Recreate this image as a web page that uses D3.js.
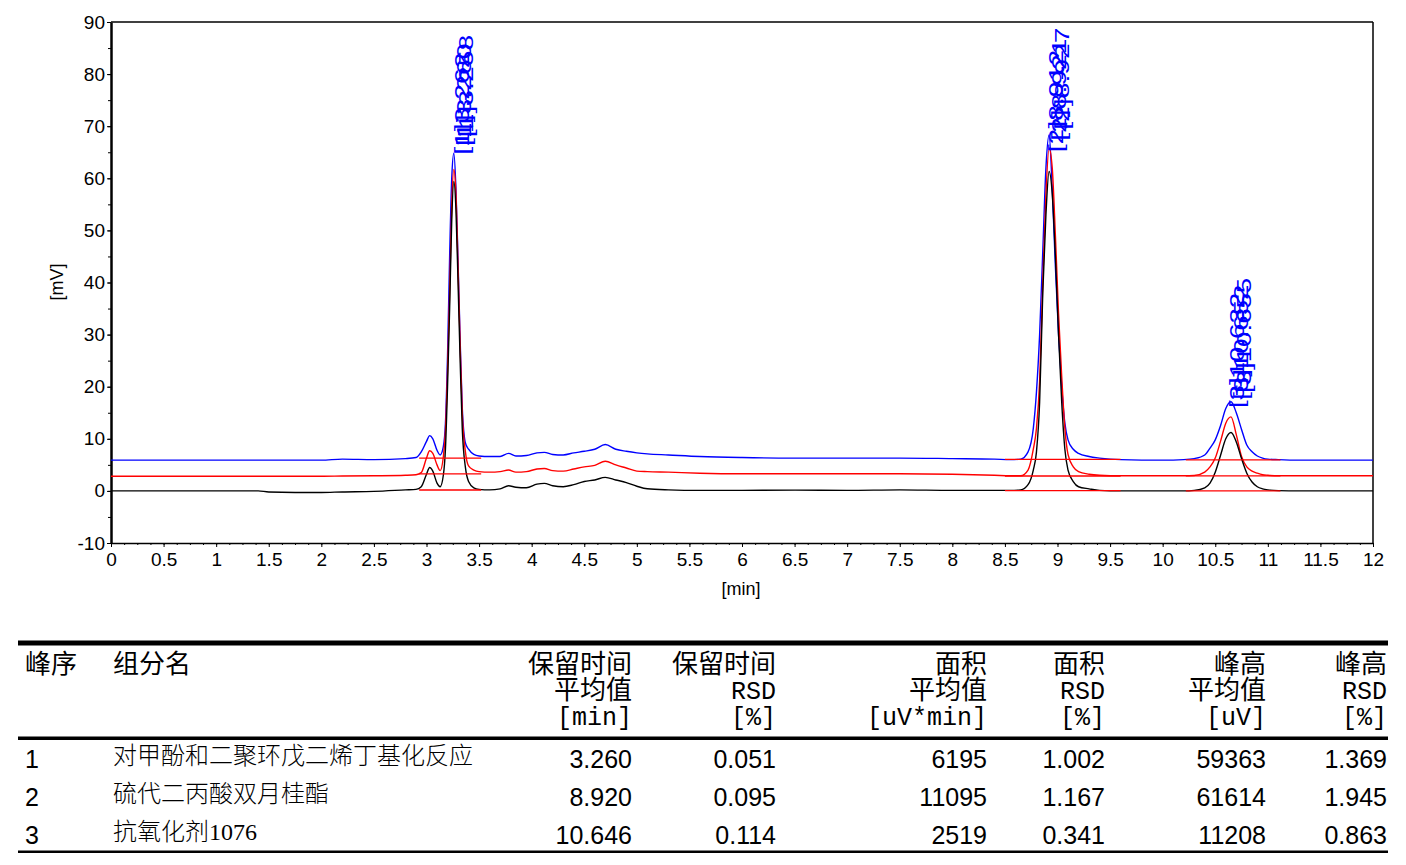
<!DOCTYPE html>
<html>
<head>
<meta charset="utf-8">
<script src="https://cdn.jsdelivr.net/npm/d3@7"></script>
<style>
  body { margin: 0; background: #fff; }
</style>
</head>
<body>
<script>
// retention time samples (min), shared by the three runs
const times = [
  0, 1.0, 1.4, 1.5, 2.0, 2.2, 2.5, 2.8, 2.9, 2.95,
  3.0, 3.03, 3.06, 3.1, 3.13, 3.16, 3.18, 3.2, 3.22, 3.24, 3.26, 3.28, 3.3, 3.32, 3.34, 3.37, 3.4, 3.45, 3.5,
  3.6, 3.7, 3.78, 3.85, 3.95, 4.05, 4.12, 4.2, 4.3, 4.4, 4.5, 4.6, 4.7, 4.8, 4.9, 5.0, 5.1, 5.3, 5.6, 6.0, 6.5, 7.0, 7.5, 8.0, 8.4,
  8.55, 8.65, 8.72, 8.77, 8.8, 8.83, 8.86, 8.89, 8.92, 8.95, 8.98, 9.01, 9.04, 9.07, 9.1, 9.15, 9.2, 9.3, 9.4, 9.6,
  10.0, 10.2, 10.3, 10.4, 10.45, 10.5, 10.55, 10.6, 10.65, 10.7, 10.75, 10.8, 10.85, 10.9, 10.95, 11.0, 11.1, 11.3, 12.0
];
// signal (mV) of each run
const blackRun = [
  0, 0, 0, -0.2, -0.3, -0.2, -0.1, 0.2, 0.3, 0.8,
  3.2, 4.5, 3.8, 1.5, 0.8, 3, 8, 20, 35, 52, 59.4, 54, 40, 25, 12, 4.5, 1.8, 0.6, 0.3,
  0.2, 0.4, 1.0, 0.7, 0.6, 1.3, 1.45, 1.0, 0.8, 1.2, 1.8, 2.1, 2.6, 2.1, 1.6, 0.9, 0.4, 0.2, 0.1, 0.1, 0.15, 0.1, 0.2, 0.1, 0.1,
  0.1, 0.2, 1.2, 4, 7.5, 17, 38, 53, 61.3, 57, 45, 30, 17, 8, 4, 1.8, 0.8, 0.4, 0.1, 0,
  0, 0, 0.1, 0.6, 1.5, 3.6, 6.8, 10, 11.2, 9.4, 6.2, 3.4, 1.7, 0.8, 0.4, 0.2, 0.05, 0, 0
];
const redRun = [
  2.8, 2.8, 2.8, 2.8, 2.8, 2.85, 2.9, 3.0, 3.1, 3.5,
  6.3, 7.7, 7.2, 5.0, 3.9, 6.5, 11.5, 23, 38, 55, 61.7, 57, 43, 28, 15, 7.5, 4.8, 4.0, 3.7,
  3.6, 3.7, 4.0, 3.6, 3.7, 4.2, 4.3, 3.9, 3.8, 4.2, 4.6, 4.9, 5.7, 5.0, 4.4, 3.8, 3.7, 3.6, 3.4, 3.3, 3.3, 3.3, 3.3, 3.2, 3.0,
  2.9, 2.9, 4.0, 8, 12, 21, 40, 57, 65.8, 62, 49, 34, 22, 12, 7, 4.6, 3.7, 3.2, 3.0, 2.9,
  2.9, 2.9, 2.95, 3.6, 4.6, 6.3, 9.5, 13, 14.2, 10.8, 6.6, 4.6, 3.8, 3.4, 3.1, 3.0, 2.9, 2.9, 2.9
];
const blueRun = [
  5.9, 5.9, 5.9, 5.9, 5.9, 6.1, 6.0, 6.2, 6.4, 7.5,
  9.5, 10.6, 10.0, 7.8, 6.9, 8.5, 13, 26, 45, 60, 64.8, 58, 44, 29, 16, 9.2, 8.0, 7.0, 6.7,
  6.6, 6.6, 7.2, 6.7, 6.8, 7.3, 7.4, 7.0, 6.9, 7.3, 7.6, 8.0, 8.9, 8.0, 7.6, 7.3, 7.1, 6.9, 6.6, 6.4, 6.3, 6.3, 6.3, 6.2, 6.1,
  6.0, 6.1, 7.5, 12, 19, 30, 46, 62, 68.3, 58, 43, 30, 20, 13, 9.8, 8, 7.2, 6.6, 6.3, 6.0,
  5.9, 6.0, 6.2, 6.9, 8.2, 9.8, 12.5, 15.8, 17.1, 15, 11.8, 8.8, 7.5, 6.7, 6.3, 6.1, 6.0, 5.9, 5.9
];

// integration baselines (red segments) per peak
const intStart = [2.93, 8.5, 10.22];
const intEnd = [3.52, 9.6, 11.12];
const intBlack = [0.17, 0.04, 0.0];
const intRed = [3.25, 2.86, 2.9];
const intBlue = [6.3, 6.06, 5.95];

// peak labels: text, retention time, height (mV) where the label starts
const peakLabels = [
  ["[1]3.262", "[1]3.260", "[1]3.258"],
  ["[2]8.912", "[2]8.921", "[2]8.927"],
  ["[3]10.632", "[3]10.652", "[3]10.655"]
];
const labelRT = [[3.262, 3.260, 3.258], [8.912, 8.921, 8.927], [10.632, 10.652, 10.655]];
const labelMV = [[64.5, 66.2, 67.9], [65.0, 67.2, 69.3], [15.9, 17.5, 18.8]];

const xTickValues = [0, 0.5, 1, 1.5, 2, 2.5, 3, 3.5, 4, 4.5, 5, 5.5, 6, 6.5, 7, 7.5, 8, 8.5, 9, 9.5, 10, 10.5, 11, 11.5, 12];
const yTickValues = [-10, 0, 10, 20, 30, 40, 50, 60, 70, 80, 90];

// result table
const headers = [
  ["峰序"], ["组分名"], ["保留时间", "平均值", "[min]"], ["保留时间", "RSD", "[%]"],
  ["面积", "平均值", "[uV*min]"], ["面积", "RSD", "[%]"], ["峰高", "平均值", "[uV]"], ["峰高", "RSD", "[%]"]
];
const peakNo = ["1", "2", "3"];
const compNames = ["对甲酚和二聚环戊二烯丁基化反应", "硫代二丙酸双月桂酯", "抗氧化剂1076"];
const rtMean = ["3.260", "8.920", "10.646"];
const rtRSD = ["0.051", "0.095", "0.114"];
const areaMean = ["6195", "11095", "2519"];
const areaRSD = ["1.002", "1.167", "0.341"];
const heightMean = ["59363", "61614", "11208"];
const heightRSD = ["1.369", "1.945", "0.863"];

const SANS = "'Liberation Sans', Arial, sans-serif";
const CJK = "'Noto Sans CJK SC', sans-serif";

const svg = d3.select("body").append("svg")
  .attr("width", 1406)
  .attr("height", 865);

const x = d3.scaleLinear().domain([0, 12]).range([111, 1373]);
const y = d3.scaleLinear().domain([-10, 90]).range([543, 22]);

// frame top and right
svg.append("line").attr("x1", 111).attr("y1", 22).attr("x2", 1373).attr("y2", 22)
  .attr("stroke", "#000").attr("stroke-width", 1.5);
svg.append("line").attr("x1", 1373).attr("y1", 22).attr("x2", 1373).attr("y2", 543)
  .attr("stroke", "#000").attr("stroke-width", 1.5);

// y axis
const gy = svg.append("g").attr("transform", "translate(111,0)")
  .call(d3.axisLeft(y).tickValues(yTickValues).tickSize(4).tickPadding(2).tickSizeOuter(0).tickFormat(d => String(d)));
gy.select(".domain").attr("stroke-width", 2.5);
gy.selectAll("text").attr("font-family", SANS).attr("font-size", 19).attr("fill", "#000");
const gyMinor = svg.append("g").attr("transform", "translate(111,0)")
  .call(d3.axisLeft(y).tickValues(d3.range(-10, 90.1, 5)).tickSize(3).tickFormat(""));
gyMinor.select(".domain").remove();

// x axis
const gx = svg.append("g").attr("transform", "translate(0,543)")
  .call(d3.axisBottom(x).tickValues(xTickValues).tickSize(4).tickPadding(6).tickSizeOuter(0).tickFormat(d => String(d)));
gx.select(".domain").attr("stroke-width", 1.5);
gx.selectAll("text").attr("font-family", SANS).attr("font-size", 19).attr("fill", "#000");
const gxMinor = svg.append("g").attr("transform", "translate(0,543)")
  .call(d3.axisBottom(x).tickValues(d3.range(0, 12.001, 0.125)).tickSize(2).tickFormat(""));
gxMinor.select(".domain").remove();

// axis titles
svg.append("text")
  .attr("transform", "translate(63,282) rotate(-90)")
  .attr("text-anchor", "middle")
  .attr("font-family", SANS).attr("font-size", 18).attr("fill", "#000")
  .text("[mV]");
svg.append("text")
  .attr("x", 741).attr("y", 595)
  .attr("text-anchor", "middle")
  .attr("font-family", SANS).attr("font-size", 18).attr("fill", "#000")
  .text("[min]");

// traces
svg.append("clipPath").attr("id", "plot")
  .append("rect").attr("x", 111).attr("y", 22).attr("width", 1262).attr("height", 521);

const line = d3.line()
  .x((d, i) => x(times[i]))
  .y(d => y(d))
  .curve(d3.curveMonotoneX);

const runs = [
  { values: blueRun, color: "#0000ff" },
  { values: redRun, color: "#ff0000" },
  { values: blackRun, color: "#000000" }
];
svg.append("g").attr("clip-path", "url(#plot)")
  .selectAll("path")
  .data(runs)
  .enter()
  .append("path")
  .attr("d", d => line(d.values))
  .attr("fill", "none")
  .attr("stroke", d => d.color)
  .attr("stroke-width", 1.4);

// integration baselines
const levels = [intBlack, intRed, intBlue];
levels.forEach(lv => {
  svg.selectAll()
    .data(intStart)
    .enter()
    .append("line")
    .attr("x1", d => x(d))
    .attr("x2", (d, i) => x(intEnd[i]))
    .attr("y1", (d, i) => y(lv[i]))
    .attr("y2", (d, i) => y(lv[i]))
    .attr("stroke", "#ff0000")
    .attr("stroke-width", 1.3);
});

// peak labels (one per run, stacked)
peakLabels.forEach((labels, p) => {
  labels.forEach((txt, k) => {
    svg.append("text")
      .attr("transform", "translate(" + (x(labelRT[p][k]) + 15 + k * 2) + "," + y(labelMV[p][k]) + ") rotate(-90)")
      .attr("font-family", SANS)
      .attr("font-size", 21)
      .attr("fill", "#0000ff")
      .attr("textLength", txt.length * 12.8)
      .attr("lengthAdjust", "spacingAndGlyphs")
      .text(txt);
  });
});

// table
const tableLeft = 18, tableRight = 1388;
svg.append("rect").attr("x", tableLeft).attr("y", 640.5).attr("width", tableRight - tableLeft).attr("height", 5).attr("fill", "#000");
svg.append("rect").attr("x", tableLeft).attr("y", 736.5).attr("width", tableRight - tableLeft).attr("height", 3.5).attr("fill", "#000");
svg.append("rect").attr("x", tableLeft).attr("y", 850.5).attr("width", tableRight - tableLeft).attr("height", 2.5).attr("fill", "#000");

const colX = [25, 113, 632, 776, 987, 1105, 1266, 1387];
const colAnchor = ["start", "start", "end", "end", "end", "end", "end", "end"];
const isCJK = s => /[\u4e00-\u9fff]/.test(s);

headers.forEach((lines, c) => {
  lines.forEach((s, r) => {
    svg.append("text")
      .attr("x", colX[c])
      .attr("y", 673 + r * 26)
      .attr("text-anchor", colAnchor[c])
      .attr("font-family", isCJK(s) ? CJK : "'Liberation Mono', monospace")
      .attr("font-size", isCJK(s) ? 26 : 25)
      .attr("fill", "#000")
      .text(s);
  });
});

const numCols = [rtMean, rtRSD, areaMean, areaRSD, heightMean, heightRSD];
peakNo.forEach((n, r) => {
  const base = 768 + r * 38;
  svg.append("text")
    .attr("x", colX[0]).attr("y", base)
    .attr("font-family", SANS).attr("font-size", 25).attr("fill", "#000")
    .text(n);
  svg.append("text")
    .attr("x", colX[1]).attr("y", base - 4)
    .attr("font-family", "'Liberation Serif', 'Noto Sans CJK SC', serif")
    .attr("font-size", 24).attr("font-weight", 300).attr("fill", "#000")
    .text(compNames[r]);
  numCols.forEach((col, c) => {
    svg.append("text")
      .attr("x", colX[c + 2]).attr("y", base)
      .attr("text-anchor", "end")
      .attr("font-family", SANS).attr("font-size", 25).attr("fill", "#000")
      .text(col[r]);
  });
});
</script>
</body>
</html>
